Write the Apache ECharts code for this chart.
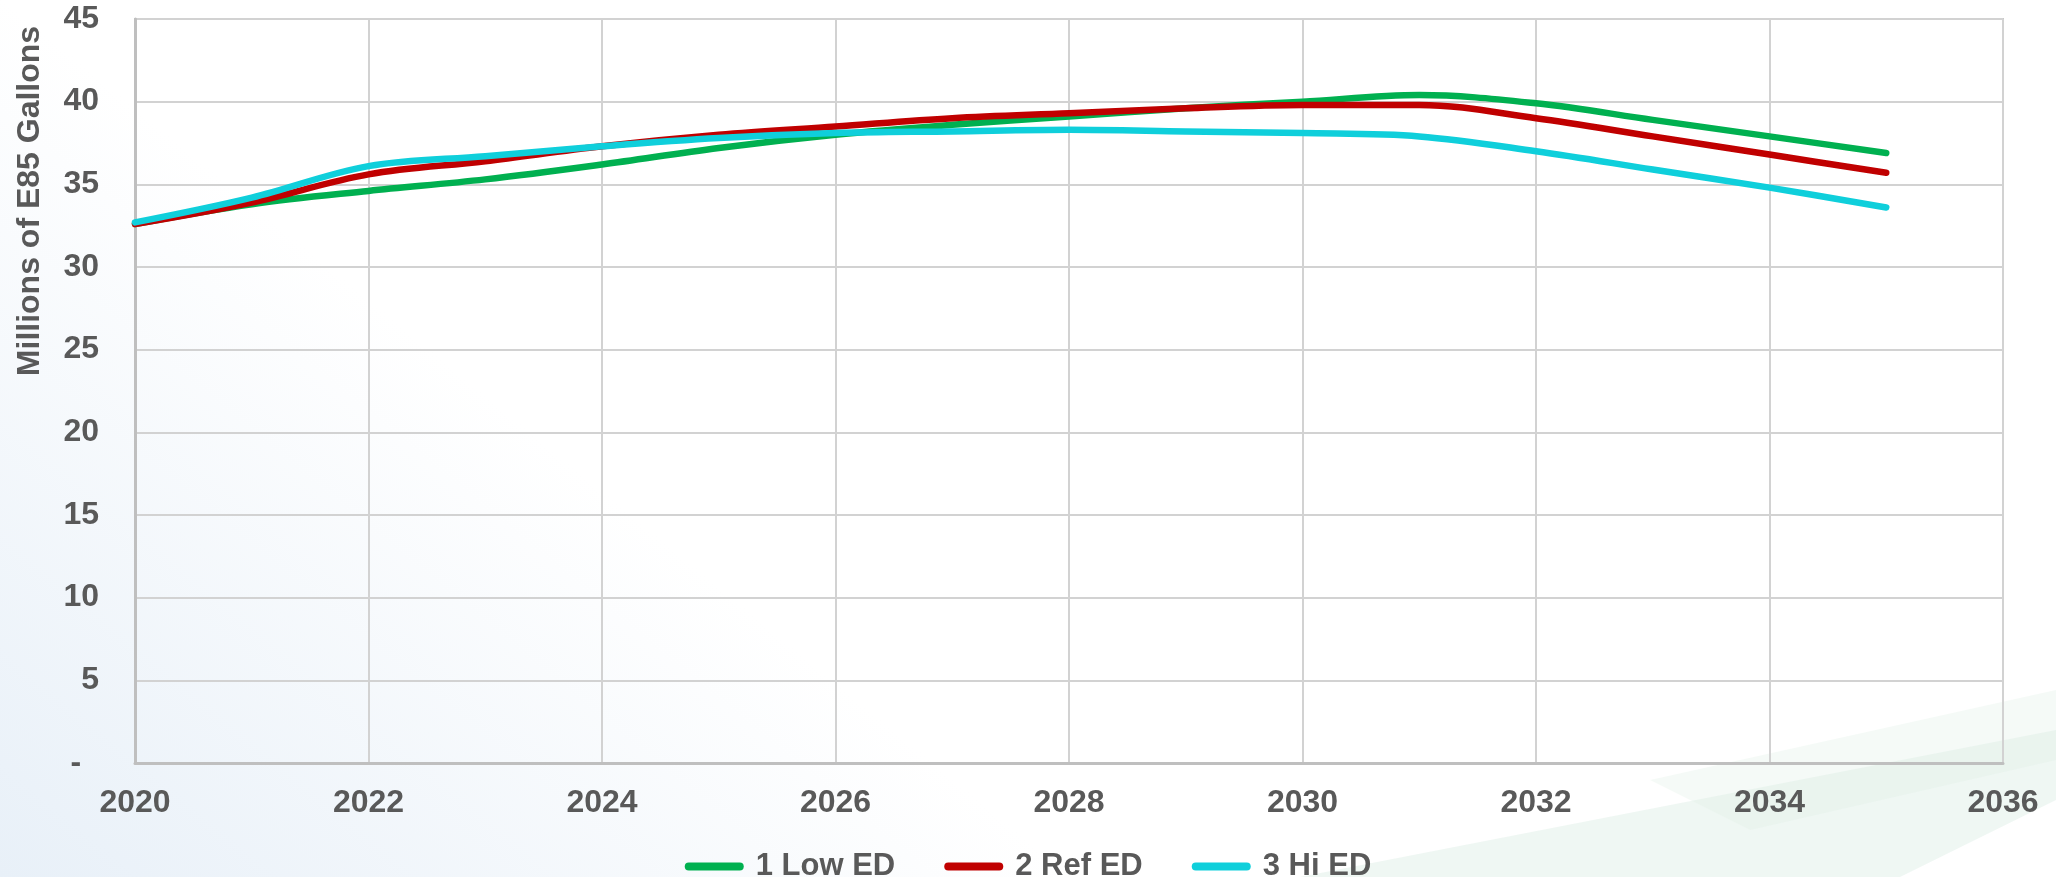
<!DOCTYPE html>
<html>
<head>
<meta charset="utf-8">
<script src="https://cdn.jsdelivr.net/npm/echarts@6/dist/echarts.min.js"></script>
<style>
html,body{margin:0;padding:0;width:2056px;height:877px;overflow:hidden;background:#fff;}
#c{width:2056px;height:877px;}
</style>
</head>
<body>
<div id="c"></div>
<script>
const years = [2020,2021,2022,2023,2024,2025,2026,2027,2028,2029,2030,2031,2032,2033,2034,2035];
const lowED = [32.6,33.8,34.6,35.3,36.2,37.2,38.0,38.6,39.1,39.6,40.0,40.4,39.9,38.9,37.9,36.9];
const refED = [32.6,33.9,35.6,36.4,37.3,38.0,38.5,39.0,39.3,39.6,39.8,39.8,39.0,37.9,36.8,35.7];
const hiED  = [32.7,34.2,36.1,36.7,37.3,37.8,38.1,38.2,38.3,38.2,38.1,37.9,37.0,35.9,34.8,33.6];
const seriesNames = ['1 Low ED','2 Ref ED','3 Hi ED'];
const seriesColors = ['#00B050','#C00000','#0FCFDB'];
const yAxisTitle = 'Millions of E85 Gallons';

const font = 'Liberation Sans, Arial, sans-serif';
const labelColor = '#595959';
const pairs = arr => years.map((y,i)=>[y, arr[i]]);
const allData = [lowED, refED, hiED];

const chart = echarts.init(document.getElementById('c'), null, {renderer:'canvas'});
chart.setOption({
  backgroundColor: {
    type:'linear', x:0.35, y:0, x2:0, y2:1,
    colorStops:[{offset:0,color:'#FFFFFF'},{offset:0.4,color:'#FFFFFF'},{offset:1,color:'#E8F0F8'}]
  },
  graphic: [
    {type:'polygon', z:-20, silent:true, shape:{points:[[1000,300],[2056,300],[2056,877],[1880,877]]},
      style:{fill:{type:'linear', x:0, y:0, x2:1, y2:0, colorStops:[{offset:0,color:'rgba(255,255,255,0)'},{offset:0.12,color:'rgba(255,255,255,0.95)'},{offset:1,color:'rgba(255,255,255,1)'}]}}},
    {type:'polygon', z:-10, silent:true, shape:{points:[[1300,877],[2056,730],[2056,800],[1900,877]]}, style:{fill:'rgba(214,236,224,0.4)'}},
    {type:'polygon', z:-10, silent:true, shape:{points:[[1650,780],[2056,690],[2056,760],[1750,830]]}, style:{fill:'rgba(222,240,230,0.3)'}},
    {type:'text', z:10, silent:true, x:30, y:201, rotation:Math.PI/2,
      style:{text:yAxisTitle, fontFamily:font, fontWeight:'bold', fontSize:32, fill:labelColor, align:'center', verticalAlign:'middle'}}
  ],
  animation:false,
  grid:{left:135, right:53, top:19, bottom:114, show:true, borderColor:'#C8C8C8', borderWidth:2, backgroundColor:'transparent', outerBoundsMode:'none', containLabel:false},
  legend:{
    top: 846, left:'center',
    itemWidth:59, itemHeight:8, itemGap:49,
    icon:'path://M4,0 H55 A4,4 0 0 1 55,8 H4 A4,4 0 0 1 4,0 Z',
    textStyle:{fontFamily:font, fontWeight:'bold', fontSize:31, color:labelColor, padding:[0,0,0,7]},
    data: seriesNames
  },
  xAxis:{
    type:'value', min:2020, max:2036, interval:2,
    axisLine:{show:true, lineStyle:{color:'#BFBFBF', width:3}},
    axisTick:{show:false},
    splitLine:{show:true, lineStyle:{color:'#D2D2D2', width:2}},
    axisLabel:{fontFamily:font, fontWeight:'bold', fontSize:32, color:labelColor, margin:24, formatter:v=>String(v)}
  },
  yAxis:{
    type:'value', min:0, max:45, interval:5,
    axisLine:{show:true, lineStyle:{color:'#BFBFBF', width:3}},
    axisTick:{show:false},
    splitLine:{show:true, lineStyle:{color:'#D2D2D2', width:2}},
    axisLabel:{fontFamily:font, fontWeight:'bold', fontSize:32, color:labelColor, margin:36, formatter:v=> v===0 ? '-  ' : String(v)}
  },
  series: seriesNames.map((n,i)=>({
    name:n, type:'line', data:pairs(allData[i]), smooth:0.35, showSymbol:false, symbol:'none',
    lineStyle:{color:seriesColors[i], width:6.5, cap:'round', join:'round'},
    itemStyle:{color:seriesColors[i]}, z:2+i
  }))
});
</script>
</body>
</html>
